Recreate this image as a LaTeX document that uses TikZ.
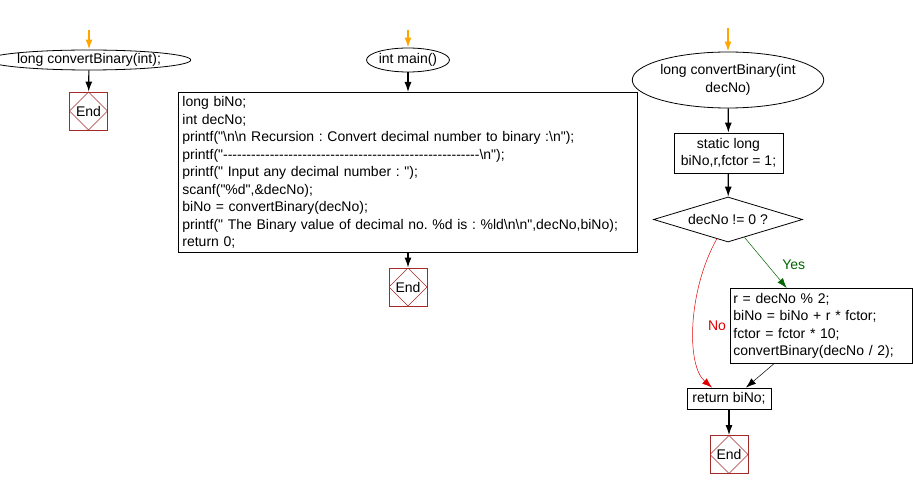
\documentclass[tikz,border=0pt]{standalone}
\usepackage{fontspec}
\setmainfont{Liberation Sans}[Ligatures=TeXOff]
\usetikzlibrary{shapes.geometric}
\usetikzlibrary{arrows.meta}
\usetikzlibrary{calc}
\usetikzlibrary{math}

\definecolor{startorange}{HTML}{FFA500}
\definecolor{endred}{HTML}{A52A2A}
\definecolor{yesgreen}{HTML}{006400}
\definecolor{nored}{HTML}{E00000}

\frenchspacing

\begin{document}
\begin{tikzpicture}[x=1pt,y=-1pt,line width=0.8pt,
  every node/.style={font=\fontsize{14}{17.5}\selectfont},
  flow/.style={-{Latex[length=10pt,width=7pt]},line width=1.2pt},
  startflow/.style={flow,startorange,line width=1.6pt},
  thinflow/.style={-{Latex[length=10pt,width=7pt]},line width=0.5pt},
  oval/.style={draw,ellipse,inner sep=0pt},
  stmt/.style={draw,rectangle,inner sep=0pt},
  cond/.style={draw,diamond,inner sep=0pt},
  endbox/.style={draw=endred,rectangle,inner sep=0pt,minimum size=\endsize,
    path picture={\draw[endred,line width=0.5pt]
      (path picture bounding box.north) -- (path picture bounding box.east)
      -- (path picture bounding box.south) -- (path picture bounding box.west) -- cycle;}}]

  \tikzmath{
    \endsize = 38;  % side of the End boxes
  }

  \useasboundingbox (0,0) rectangle (913,489);

  % declaration of the function
  \coordinate (declin) at (89,30);
  \node[oval,minimum width=168,minimum height=20] (decl) at (89,60) {long convertBinary(int);};
  \node[endbox] (declend) at (88.5,111) {End};
  \draw[startflow] (declin) -- (decl);
  \draw[flow] (decl) -- (declend);

  % main
  \coordinate (mainin) at (408,30);
  \node[oval,minimum width=83,minimum height=24] (main) at (408,60) {int main()};
  \node[stmt,anchor=north west,minimum width=459,minimum height=160,
    text width=451,align=left] (mainbody) at (178,92)
    {long biNo;\\
     int decNo;\\
     printf("\textbackslash n\textbackslash n Recursion : Convert decimal number to binary :\textbackslash n");\\
     printf("-------------------------------------------------------\textbackslash n");\\
     printf(" Input any decimal number : ");\\
     scanf("\%d",\&decNo);\\
     biNo = convertBinary(decNo);\\
     printf(" The Binary value of decimal no. \%d is : \%ld\textbackslash n\textbackslash n",decNo,biNo);\\
     return 0;};
  \node[endbox] (mainend) at (408,287) {End};
  \draw[startflow] (mainin) -- (main);
  \draw[flow] (main) -- (mainbody.north -| main);
  \draw[flow] (mainbody.south -| mainend) -- (mainend);

  % convertBinary
  \coordinate (convin) at (728,28);
  \node[oval,minimum width=169,minimum height=56,align=center] (conv) at (728,80)
    {long convertBinary(int\\decNo)};
  \node[stmt,minimum width=109,minimum height=40,align=center] (init) at (728.5,153)
    {static long\\biNo,r,fctor = 1;};
  \node[cond,aspect=3.3,minimum width=149,minimum height=45] (test) at (728,219.5) {decNo != 0 ?};
  \node[stmt,anchor=north west,minimum width=182,minimum height=75,
    text width=176,align=left] (step) at (730,288)
    {r = decNo \% 2;\\
     biNo = biNo + r * fctor;\\
     fctor = fctor * 10;\\
     convertBinary(decNo / 2);};
  \node[stmt,minimum width=84,minimum height=21] (ret) at (729,398.5) {return biNo;};
  \node[endbox] (convend) at (729,454.5) {End};

  \draw[startflow] (convin) -- (conv);
  \draw[flow] (conv) -- (init);
  \draw[flow] (init) -- (test);

  % branches of the test
  \coordinate (yesout) at ($(test.south)!0.22!(test.east)$);
  \coordinate (yesin)  at ($(step.north west)!0.31!(step.north east)$);
  \draw[thinflow,yesgreen] (yesout) -- (yesin)
    node[pos=0.55,right=11pt,text=yesgreen] {Yes};

  \coordinate (noout) at ($(test.south)!0.15!(test.west)$);
  \coordinate (noin)  at ($(ret.north west)!0.3!(ret.north east)$);
  \draw[thinflow,nored] (noout) .. controls (688,290) and (686,365) .. (noin);
  \node[text=nored] (nolabel) at (717,326) {No};

  \coordinate (stepout) at ($(step.south west)!0.24!(step.south east)$);
  \coordinate (stepin)  at ($(ret.north west)!0.7!(ret.north east)$);
  \draw[thinflow] (stepout) -- (stepin);
  \draw[flow] (ret) -- (convend);

\end{tikzpicture}
\end{document}
